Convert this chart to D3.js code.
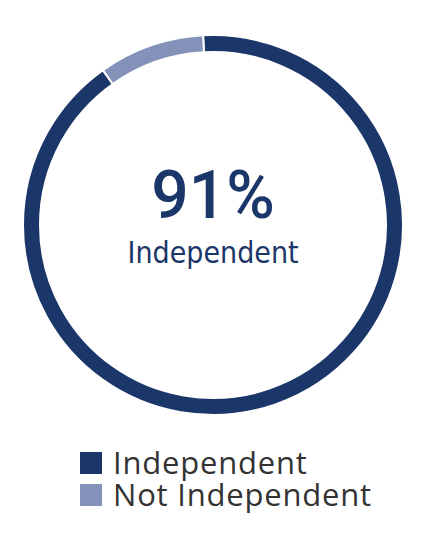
<!DOCTYPE html>
<html>
<head>
<meta charset="utf-8">
<script src="https://cdn.jsdelivr.net/npm/d3@7"></script>
<style>
  body { margin: 0; background: #fff; }
  svg { display: block; }
</style>
</head>
<body>
<svg id="svgRoot" width="427" height="537"></svg>
<script>
// data
const categories = ["Independent", "Not Independent"]
const values = [91, 9]
const colors = ["#1b3668", "#8491b8"]
const centerValue = "91%"
const centerLabel = "Independent"

let svg = d3.select("#svgRoot")

const cx = 213
const cy = 225
const outerR = 190
const innerR = 173
const offset = -3 * Math.PI / 180

let pie = d3.pie()
  .sort(null)
  .value((d) => d)
  .startAngle(offset)
  .endAngle(2 * Math.PI + offset)

let arc = d3.arc().innerRadius(innerR).outerRadius(outerR)

let g_donut = svg.append("g").attr("transform", `translate(${cx}, ${cy})`)

g_donut.selectAll(".slice")
  .data(pie(values))
  .enter()
  .append("path")
  .attr("class", "slice")
  .attr("d", arc)
  .attr("fill", (d, i) => colors[i])
  .attr("stroke", "#fff")
  .attr("stroke-width", 2)

// center text
g_donut.append("text")
  .text(centerValue)
  .attr("x", 0)
  .attr("y", -7)
  .attr("text-anchor", "middle")
  .attr("font-family", "Roboto, sans-serif")
  .attr("font-weight", 500)
  .attr("font-size", "66px")
  .attr("fill", colors[0])

g_donut.append("text")
  .text(centerLabel)
  .attr("x", 0)
  .attr("y", 38)
  .attr("text-anchor", "middle")
  .attr("font-family", "DejaVu Sans Condensed, DejaVu Sans, sans-serif")
  .attr("font-size", "30px")
  .attr("fill", colors[0])

// legend
let legend = svg.append("g").attr("class", "legend")
let items = legend.selectAll(".item")
  .data(categories)
  .enter()
  .append("g")
  .attr("class", "item")
  .attr("transform", (d, i) => `translate(80, ${452 + i * 32})`)

items.append("rect")
  .attr("width", 22)
  .attr("height", 22)
  .attr("fill", (d, i) => colors[i])

items.append("text")
  .text((d) => d)
  .attr("x", 33)
  .attr("y", 22)
  .attr("font-family", "Open Sans, sans-serif")
  .attr("font-size", "31px")
  .attr("letter-spacing", "0.8px")
  .attr("fill", "#333")
</script>
</body>
</html>
